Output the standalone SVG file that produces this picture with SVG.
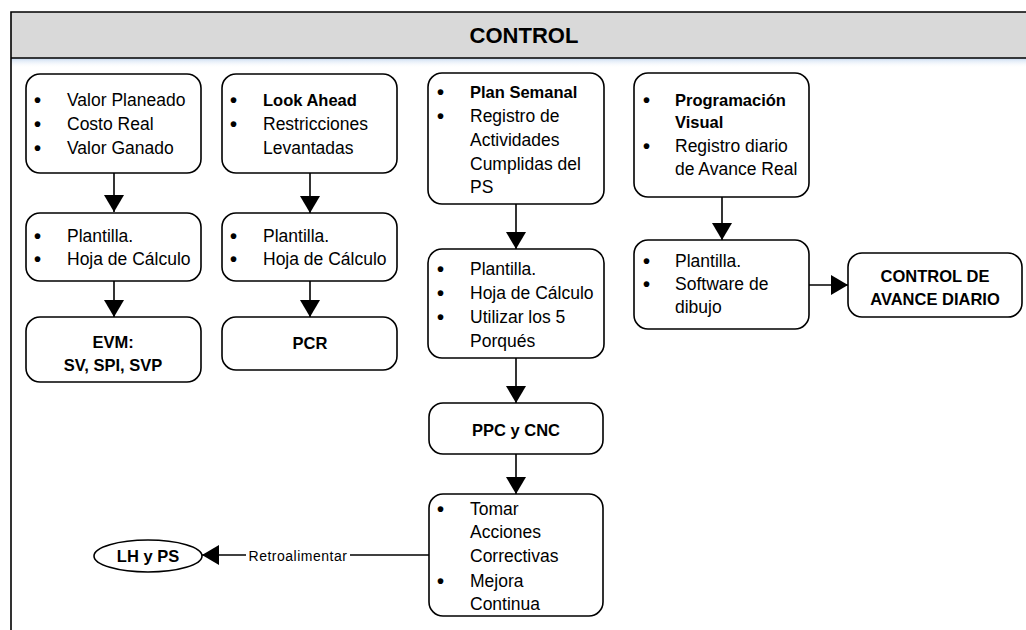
<svg xmlns="http://www.w3.org/2000/svg" width="1026" height="630" viewBox="0 0 1026 630">
  <defs>
    <marker id="arrow" markerUnits="userSpaceOnUse" markerWidth="18" markerHeight="20" refX="17" refY="10" orient="auto">
      <path d="M0,0 L17,10 L0,20 z" fill="#000"/>
    </marker>
    <linearGradient id="headShadow" x1="0" y1="0" x2="0" y2="1">
      <stop offset="0" stop-color="#c6d9f0"/>
      <stop offset="1" stop-color="#ffffff" stop-opacity="0"/>
    </linearGradient>
    <style>
      .box { fill: #fff; stroke: #000; stroke-width: 1.6; }
      .t { font-family: "Liberation Sans", Arial, sans-serif; font-size: 17.5px; fill: #000; }
      .b { font-family: "Liberation Sans", Arial, sans-serif; font-size: 16.5px; font-weight: bold; fill: #000; }
      .c { text-anchor: middle; }
      .bul { font-family: "Liberation Sans", Arial, sans-serif; font-size: 20px; font-weight: bold; fill: #000; }
      .edge { fill: none; stroke: #000; stroke-width: 1.6; }
      .lbl { font-family: "Liberation Sans", Arial, sans-serif; font-size: 14px; letter-spacing: 0.5px; fill: #000; }
    </style>
  </defs>

  <rect width="1026" height="630" fill="#fff"/>

  <!-- frame and header band -->
  <g id="frame">
    <rect x="11" y="58" width="1030" height="10" fill="url(#headShadow)"/>
    <rect x="11" y="12" width="1030" height="46" fill="#d9d9d9"/>
    <path d="M1040,12 H11 V640" fill="none" stroke="#000" stroke-width="1.6"/>
    <path d="M11,58 H1040" fill="none" stroke="#000" stroke-width="1.6"/>
    <text x="524" y="43" text-anchor="middle" font-family="'Liberation Sans', Arial, sans-serif" font-size="22" font-weight="bold">CONTROL</text>
  </g>

  <!-- connectors -->
  <g id="connectors">
    <line class="edge" x1="114" y1="173" x2="114" y2="212" marker-end="url(#arrow)"/>
    <line class="edge" x1="114" y1="281" x2="114" y2="317" marker-end="url(#arrow)"/>
    <line class="edge" x1="310" y1="173" x2="310" y2="213" marker-end="url(#arrow)"/>
    <line class="edge" x1="310" y1="281" x2="310" y2="317" marker-end="url(#arrow)"/>
    <line class="edge" x1="516" y1="204" x2="516" y2="249" marker-end="url(#arrow)"/>
    <line class="edge" x1="516" y1="358" x2="516" y2="403" marker-end="url(#arrow)"/>
    <line class="edge" x1="516" y1="454" x2="516" y2="494" marker-end="url(#arrow)"/>
    <line class="edge" x1="722" y1="197" x2="722" y2="240" marker-end="url(#arrow)"/>
    <line class="edge" x1="809" y1="285" x2="848" y2="285" marker-end="url(#arrow)"/>
    <line class="edge" x1="429" y1="555" x2="202" y2="555" marker-end="url(#arrow)"/>
    <rect x="246" y="546" width="104" height="18" fill="#fff"/>
    <text class="lbl" x="298" y="561" text-anchor="middle">Retroalimentar</text>
  </g>

  <!-- column 1: EVM -->
  <g id="evm-inputs">
    <rect class="box" x="26" y="74" width="175" height="99" rx="14"/>
    <text class="bul" x="34" y="107">•</text>
    <text class="bul" x="34" y="131">•</text>
    <text class="bul" x="34" y="155">•</text>
    <text class="t" x="67" y="106">Valor Planeado</text>
    <text class="t" x="67" y="130">Costo Real</text>
    <text class="t" x="67" y="154">Valor Ganado</text>
  </g>
  <g id="evm-tools">
    <rect class="box" x="26" y="213" width="175" height="68" rx="14"/>
    <text class="bul" x="34" y="243">•</text>
    <text class="bul" x="34" y="266">•</text>
    <text class="t" x="67" y="242">Plantilla.</text>
    <text class="t" x="67" y="265">Hoja de Cálculo</text>
  </g>
  <g id="evm-output">
    <rect class="box" x="26" y="317" width="175" height="65" rx="14"/>
    <text class="b c" x="113" y="348">EVM:</text>
    <text class="b c" x="113" y="371">SV, SPI, SVP</text>
  </g>

  <!-- column 2: Look Ahead -->
  <g id="lookahead-inputs">
    <rect class="box" x="222" y="74" width="175" height="99" rx="14"/>
    <text class="bul" x="230" y="107">•</text>
    <text class="bul" x="230" y="131">•</text>
    <text class="b" x="263" y="106">Look Ahead</text>
    <text class="t" x="263" y="130">Restricciones</text>
    <text class="t" x="263" y="154">Levantadas</text>
  </g>
  <g id="lookahead-tools">
    <rect class="box" x="222" y="213" width="175" height="68" rx="14"/>
    <text class="bul" x="230" y="243">•</text>
    <text class="bul" x="230" y="266">•</text>
    <text class="t" x="263" y="242">Plantilla.</text>
    <text class="t" x="263" y="265">Hoja de Cálculo</text>
  </g>
  <g id="lookahead-output">
    <rect class="box" x="222" y="317" width="175" height="53" rx="14"/>
    <text class="b c" x="310" y="349">PCR</text>
  </g>

  <!-- column 3: Plan Semanal -->
  <g id="ps-inputs">
    <rect class="box" x="428" y="73" width="176" height="131" rx="14"/>
    <text class="bul" x="437" y="99">•</text>
    <text class="bul" x="437" y="123">•</text>
    <text class="b" x="470" y="98">Plan Semanal</text>
    <text class="t" x="470" y="122">Registro de</text>
    <text class="t" x="470" y="146">Actividades</text>
    <text class="t" x="470" y="170">Cumplidas del</text>
    <text class="t" x="470" y="193">PS</text>
  </g>
  <g id="ps-tools">
    <rect class="box" x="428" y="249" width="176" height="109" rx="14"/>
    <text class="bul" x="437" y="276">•</text>
    <text class="bul" x="437" y="300">•</text>
    <text class="bul" x="437" y="324">•</text>
    <text class="t" x="470" y="275">Plantilla.</text>
    <text class="t" x="470" y="299">Hoja de Cálculo</text>
    <text class="t" x="470" y="323">Utilizar los 5</text>
    <text class="t" x="470" y="347">Porqués</text>
  </g>
  <g id="ppc-cnc">
    <rect class="box" x="429" y="403" width="174" height="51" rx="14"/>
    <text class="b c" x="516" y="436">PPC y CNC</text>
  </g>
  <g id="acciones">
    <rect class="box" x="429" y="494" width="174" height="122" rx="14"/>
    <text class="bul" x="437" y="516">•</text>
    <text class="bul" x="437" y="588">•</text>
    <text class="t" x="470" y="515">Tomar</text>
    <text class="t" x="470" y="538">Acciones</text>
    <text class="t" x="470" y="562">Correctivas</text>
    <text class="t" x="470" y="587">Mejora</text>
    <text class="t" x="470" y="610">Continua</text>
  </g>
  <g id="lh-ps">
    <ellipse class="box" cx="148" cy="556" rx="54" ry="16"/>
    <text class="b c" x="148" y="562">LH y PS</text>
  </g>

  <!-- column 4: Programación Visual -->
  <g id="pv-inputs">
    <rect class="box" x="634" y="73" width="175" height="124" rx="14"/>
    <text class="bul" x="643" y="107">•</text>
    <text class="bul" x="643" y="153">•</text>
    <text class="b" x="675" y="106">Programación</text>
    <text class="b" x="675" y="128">Visual</text>
    <text class="t" x="675" y="152">Registro diario</text>
    <text class="t" x="675" y="175">de Avance Real</text>
  </g>
  <g id="pv-tools">
    <rect class="box" x="634" y="240" width="175" height="89" rx="14"/>
    <text class="bul" x="643" y="268">•</text>
    <text class="bul" x="643" y="291">•</text>
    <text class="t" x="675" y="267">Plantilla.</text>
    <text class="t" x="675" y="290">Software de</text>
    <text class="t" x="675" y="313">dibujo</text>
  </g>
  <g id="control-avance">
    <rect class="box" x="848" y="253" width="174" height="64" rx="14"/>
    <text class="b c" x="935" y="282">CONTROL DE</text>
    <text class="b c" x="935" y="305">AVANCE DIARIO</text>
  </g>
</svg>
